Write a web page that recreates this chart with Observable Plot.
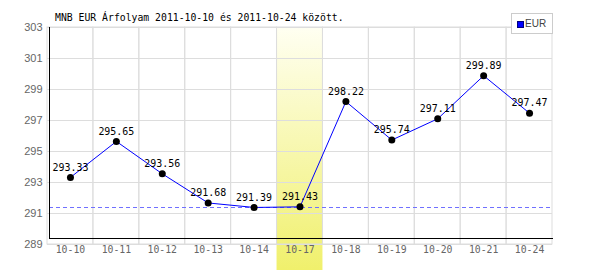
<!DOCTYPE html>
<html>
<head>
<meta charset="utf-8">
<script src="https://cdn.jsdelivr.net/npm/d3@7"></script>
<script src="https://cdn.jsdelivr.net/npm/@observablehq/plot@0.6"></script>
<style>
  body { margin: 0; background: #fff; }
  #wrap { position: relative; width: 600px; height: 270px; }
  #title { position: absolute; left: 55px; top: 12px; font-family: "DejaVu Sans Mono", monospace; color: #000; white-space: nowrap; line-height: 12px; }
  #legend { position: absolute; left: 511px; top: 13px; width: 40px; height: 19px; border: 1px solid #ccc; background: #fff; box-sizing: content-box; font: 10px "Liberation Sans", Arial, sans-serif; color: #444; }
  #legend .sw { position: absolute; left: 5px; top: 7px; width: 5px; height: 5px; background: #0000ff; border: 1px solid #000080; }
  #legend .lb { position: absolute; left: 13px; top: 4px; }
</style>
</head>
<body>
<div id="wrap">
  <div id="chart"></div>
  <div id="title">MNB EUR Árfolyam 2011-10-10 és 2011-10-24 között.</div>
  <div id="legend"><div class="sw"></div><div class="lb">EUR</div></div>
</div>
<script>
const dates = ["10-10","10-11","10-12","10-13","10-14","10-17","10-18","10-19","10-20","10-21","10-24"];
const rates = [293.33, 295.65, 293.56, 291.68, 291.39, 291.43, 298.22, 295.74, 297.11, 299.89, 297.47];
const yTicks = [289, 291, 293, 295, 297, 299, 301, 303];
const highlightDate = "10-17";

const data = dates.map((d, i) => ({date: d, rate: rates[i]}));
const minRate = d3.min(rates);

// size the monospace font so that one character has the wanted advance width
const ctx = document.createElement("canvas").getContext("2d");
ctx.font = '10px "DejaVu Sans Mono"';
const charW10 = ctx.measureText("0000000000").width / 10;
const monoSize = w => 10 * w / charW10;
document.getElementById("title").style.fontSize = monoSize(5.9) + "px";

const chart = Plot.plot({
  width: 600,
  height: 270,
  marginLeft: 47,
  marginRight: 48,
  marginTop: 27,
  marginBottom: 26,
  style: {background: "transparent"},
  x: {type: "band", domain: dates, padding: 0, round: false},
  y: {domain: [289, 303], ticks: yTicks},
  marks: [
    Plot.rect([highlightDate], {x: d => d, fill: "url(#hl)", insetBottom: -26}),
    Plot.gridY(yTicks, {stroke: "#dddddd", strokeOpacity: 1}),
    Plot.rect(dates, {x: d => d, y1: 289, y2: 303, stroke: "#dddddd", fill: "none"}),
    Plot.ruleY([minRate], {stroke: "#7070ff", strokeDasharray: "4,3", insetLeft: 2, shapeRendering: "crispEdges"}),
    Plot.frame({anchor: "left", stroke: "#000", insetBottom: 6, insetLeft: 2}),
    Plot.frame({anchor: "bottom", stroke: "#000", insetBottom: 6, insetLeft: 2}),
    Plot.line(data, {x: "date", y: "rate", stroke: "#0000ff", strokeWidth: 1}),
    Plot.dot(data, {x: "date", y: "rate", r: 3.5, fill: "#000", stroke: "none"}),
    Plot.text(data, {x: "date", y: "rate", text: d => d.rate.toFixed(2), dy: -10, fill: "#000",
      fontFamily: "DejaVu Sans Mono, monospace", fontSize: monoSize(6.0)}),
    Plot.axisY(yTicks, {tickSize: 0, tickPadding: 5, fill: "#666", fontSize: 11,
      fontFamily: "Liberation Sans, Arial, sans-serif", label: null}),
    Plot.axisX({tickSize: 0, tickPadding: 2, fill: "#666", fontSize: monoSize(5.9),
      fontFamily: "DejaVu Sans Mono, monospace", label: null})
  ]
});

const svg = d3.select(chart);
const defs = svg.insert("defs", ":first-child");
const grad = defs.append("linearGradient").attr("id", "hl")
  .attr("x1", 0).attr("y1", 0).attr("x2", 0).attr("y2", 1);
grad.append("stop").attr("offset", "0%").attr("stop-color", "#fffff2");
grad.append("stop").attr("offset", "100%").attr("stop-color", "#f0f06c");

document.getElementById("chart").appendChild(chart);
</script>
</body>
</html>
